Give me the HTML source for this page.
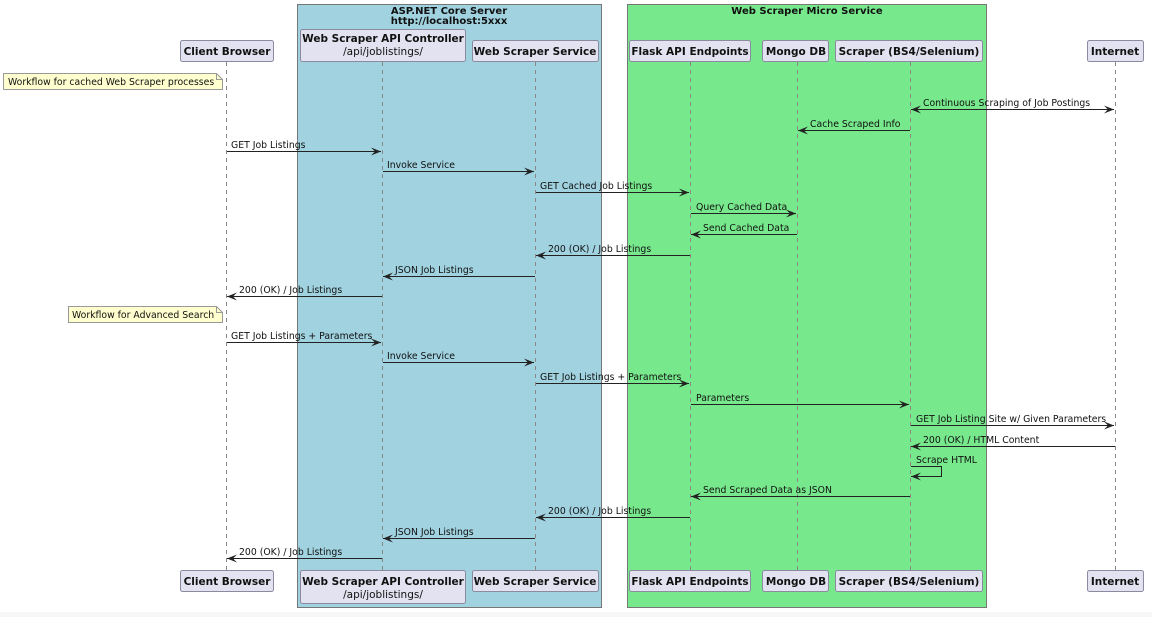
<!DOCTYPE html>
<html><head><meta charset="utf-8"><style>
html,body{margin:0;padding:0;background:#fff;}
svg{display:block;font-family:"DejaVu Sans","Liberation Sans",sans-serif;}
.m{font-size:9.3px;fill:#111;}
.h{font-size:10.5px;font-weight:bold;fill:#111;}
.s{font-size:10.5px;fill:#111;}
.ll{stroke:#888;stroke-width:1;stroke-dasharray:4,4;}
.ar{stroke:#222;stroke-width:1;fill:none;}
.pb{fill:#e2e2f0;stroke:#8a8aa0;stroke-width:1;}
</style></head><body>
<svg width="1152" height="617" viewBox="0 0 1152 617" xmlns="http://www.w3.org/2000/svg">
<defs>
<marker id="a" markerWidth="10" markerHeight="8" refX="10" refY="4" orient="auto" markerUnits="userSpaceOnUse"><path d="M0,0 L10,4 L0,8 L4,4 Z" fill="#222"/></marker>
<marker id="b" markerWidth="10" markerHeight="8" refX="0" refY="4" orient="auto" markerUnits="userSpaceOnUse"><path d="M10,0 L0,4 L10,8 L6,4 Z" fill="#222"/></marker>
</defs>
<rect x="0" y="612" width="1152" height="5" fill="#f7f7f7"/>
<rect x="297.5" y="4.5" width="304" height="603" fill="#a0d2e0" stroke="#777"/>
<rect x="627.5" y="4.5" width="359" height="603" fill="#77e88c" stroke="#777"/>
<text class="h" x="449" y="14" text-anchor="middle" style="font-size:10px">ASP.NET Core Server</text>
<text class="h" x="449" y="24" text-anchor="middle" style="font-size:10px">http://localhost:5xxx</text>
<text class="h" x="807" y="14" text-anchor="middle" style="font-size:10px">Web Scraper Micro Service</text>

<g class="ll">
<line x1="226.5" y1="62" x2="226.5" y2="570"/>
<line x1="382.5" y1="62" x2="382.5" y2="570"/>
<line x1="535.5" y1="62" x2="535.5" y2="570"/>
<line x1="690.5" y1="62" x2="690.5" y2="570"/>
<line x1="797.5" y1="62" x2="797.5" y2="570"/>
<line x1="910.5" y1="62" x2="910.5" y2="570"/>
<line x1="1115.5" y1="62" x2="1115.5" y2="570"/>
</g>

<rect class="pb" x="180.5" y="40.5" width="93" height="21" rx="2"/><text class="h" x="227" y="55" text-anchor="middle">Client Browser</text>
<rect class="pb" x="300.5" y="29.5" width="165" height="32" rx="2"/><text class="h" x="383" y="42" text-anchor="middle">Web Scraper API Controller</text><text class="s" x="383" y="55" text-anchor="middle">/api/joblistings/</text>
<rect class="pb" x="472.5" y="40.5" width="126" height="21" rx="2"/><text class="h" x="535" y="55" text-anchor="middle">Web Scraper Service</text>
<rect class="pb" x="629.5" y="40.5" width="121" height="21" rx="2"/><text class="h" x="690" y="55" text-anchor="middle">Flask API Endpoints</text>
<rect class="pb" x="762.5" y="40.5" width="66" height="21" rx="2"/><text class="h" x="796" y="55" text-anchor="middle">Mongo DB</text>
<rect class="pb" x="835.5" y="40.5" width="147" height="21" rx="2"/><text class="h" x="909" y="55" text-anchor="middle">Scraper (BS4/Selenium)</text>
<rect class="pb" x="1087.5" y="40.5" width="56" height="21" rx="2"/><text class="h" x="1115" y="55" text-anchor="middle">Internet</text>

<rect class="pb" x="180.5" y="570.5" width="93" height="21" rx="2"/><text class="h" x="227" y="585" text-anchor="middle">Client Browser</text>
<rect class="pb" x="300.5" y="570.5" width="165" height="33" rx="2"/><text class="h" x="383" y="585" text-anchor="middle">Web Scraper API Controller</text><text class="s" x="383" y="598" text-anchor="middle">/api/joblistings/</text>
<rect class="pb" x="472.5" y="570.5" width="126" height="21" rx="2"/><text class="h" x="535" y="585" text-anchor="middle">Web Scraper Service</text>
<rect class="pb" x="629.5" y="570.5" width="121" height="21" rx="2"/><text class="h" x="690" y="585" text-anchor="middle">Flask API Endpoints</text>
<rect class="pb" x="762.5" y="570.5" width="66" height="21" rx="2"/><text class="h" x="796" y="585" text-anchor="middle">Mongo DB</text>
<rect class="pb" x="835.5" y="570.5" width="147" height="21" rx="2"/><text class="h" x="909" y="585" text-anchor="middle">Scraper (BS4/Selenium)</text>
<rect class="pb" x="1087.5" y="570.5" width="56" height="21" rx="2"/><text class="h" x="1115" y="585" text-anchor="middle">Internet</text>

<path d="M3.5,73.5 H216.5 L222.5,79.5 V89.5 H3.5 Z" fill="#fefece" stroke="#999"/><path d="M216.5,73.5 V79.5 H222.5" fill="none" stroke="#999"/>
<text class="m" x="8" y="85">Workflow for cached Web Scraper processes</text>
<path d="M68.5,306.5 H216.5 L222.5,312.5 V322.5 H68.5 Z" fill="#fefece" stroke="#999"/><path d="M216.5,306.5 V312.5 H222.5" fill="none" stroke="#999"/>
<text class="m" x="72" y="318">Workflow for Advanced Search</text>

<g class="ar">
<line x1="911" y1="109.5" x2="1114" y2="109.5" marker-start="url(#b)" marker-end="url(#a)"/>
<line x1="910" y1="130.5" x2="798" y2="130.5" marker-end="url(#a)"/>
<line x1="227" y1="151.5" x2="381" y2="151.5" marker-end="url(#a)"/>
<line x1="383" y1="171.5" x2="534" y2="171.5" marker-end="url(#a)"/>
<line x1="536" y1="192.5" x2="689" y2="192.5" marker-end="url(#a)"/>
<line x1="691" y1="213.5" x2="796" y2="213.5" marker-end="url(#a)"/>
<line x1="797" y1="234.5" x2="691" y2="234.5" marker-end="url(#a)"/>
<line x1="690" y1="255.5" x2="536" y2="255.5" marker-end="url(#a)"/>
<line x1="535" y1="276.5" x2="383" y2="276.5" marker-end="url(#a)"/>
<line x1="382" y1="296.5" x2="227" y2="296.5" marker-end="url(#a)"/>
<line x1="227" y1="342.5" x2="381" y2="342.5" marker-end="url(#a)"/>
<line x1="383" y1="362.5" x2="534" y2="362.5" marker-end="url(#a)"/>
<line x1="536" y1="383.5" x2="689" y2="383.5" marker-end="url(#a)"/>
<line x1="691" y1="404.5" x2="909" y2="404.5" marker-end="url(#a)"/>
<line x1="911" y1="425.5" x2="1114" y2="425.5" marker-end="url(#a)"/>
<line x1="1115" y1="446.5" x2="911" y2="446.5" marker-end="url(#a)"/>
<path d="M911,466.5 H941.5 V476.5 H911" marker-end="url(#a)"/>
<line x1="910" y1="496.5" x2="691" y2="496.5" marker-end="url(#a)"/>
<line x1="690" y1="517.5" x2="536" y2="517.5" marker-end="url(#a)"/>
<line x1="535" y1="538.5" x2="383" y2="538.5" marker-end="url(#a)"/>
<line x1="382" y1="558.5" x2="227" y2="558.5" marker-end="url(#a)"/>
</g>
<g class="m">
<text x="923" y="106">Continuous Scraping of Job Postings</text>
<text x="810" y="127">Cache Scraped Info</text>
<text x="231" y="148">GET Job Listings</text>
<text x="387" y="168">Invoke Service</text>
<text x="540" y="189">GET Cached Job Listings</text>
<text x="696" y="210">Query Cached Data</text>
<text x="703" y="231">Send Cached Data</text>
<text x="548" y="252">200 (OK) / Job Listings</text>
<text x="395" y="273">JSON Job Listings</text>
<text x="239" y="293">200 (OK) / Job Listings</text>
<text x="231" y="339">GET Job Listings + Parameters</text>
<text x="387" y="359">Invoke Service</text>
<text x="540" y="380">GET Job Listings + Parameters</text>
<text x="696" y="401">Parameters</text>
<text x="916" y="422">GET Job Listing Site w/ Given Parameters</text>
<text x="923" y="443">200 (OK) / HTML Content</text>
<text x="916" y="463">Scrape HTML</text>
<text x="703" y="493">Send Scraped Data as JSON</text>
<text x="548" y="514">200 (OK) / Job Listings</text>
<text x="395" y="535">JSON Job Listings</text>
<text x="239" y="555">200 (OK) / Job Listings</text>
</g>
</svg>
</body></html>
